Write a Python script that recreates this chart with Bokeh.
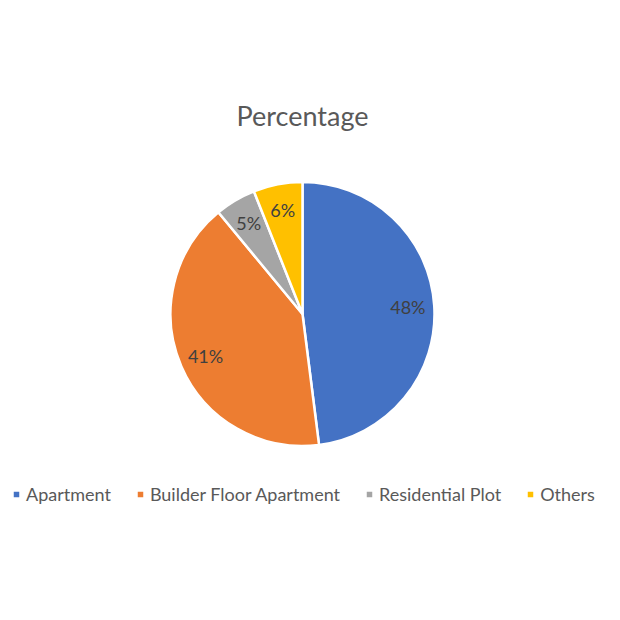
from bokeh.plotting import figure
from bokeh.models import Range1d, ColumnDataSource, Legend, LegendItem
from bokeh.core.properties import value
from bokeh.embed import file_html
from bokeh.resources import INLINE
import numpy as np

categories = ['Apartment', 'Builder Floor Apartment', 'Residential Plot', 'Others']
shares = [48, 41, 5, 6]
slice_colors = ['#4472C4', '#ED7D31', '#A5A5A5', '#FFC000']

W, H = 604, 604
cx, cy, r = 302, 604 - 313.5, 132

frac = np.array(shares, dtype=float) / sum(shares)
cum = np.concatenate([[0], np.cumsum(frac)])
start = np.pi / 2 - 2 * np.pi * cum[:-1]
end = np.pi / 2 - 2 * np.pi * cum[1:]
mid = (start + end) / 2

src = ColumnDataSource(dict(
    cat=categories, start=start, end=end, color=slice_colors,
    lx=cx + 0.8 * r * np.cos(mid), ly=cy + 0.8 * r * np.sin(mid),
    lab=['%d%%' % s for s in shares],
))

p = figure(width=W, height=H, output_backend="svg", toolbar_location=None,
           x_range=Range1d(0, W), y_range=Range1d(0, H), min_border=0)
p.axis.visible = False
p.grid.visible = False
p.outline_line_color = None

# title drawn as text so it sits where Excel puts it
p.text([cx], [604 - 115], text=['Percentage'], text_font=value("Lato"), text_font_size='27px',
       text_color='#595959', text_align='center', text_baseline='middle')

wedges = p.wedge(x=cx, y=cy, radius=r, start_angle='start', end_angle='end', direction='clock',
                 fill_color='color', line_color='white', line_width=2.5, source=src)

p.text(x='lx', y='ly', text='lab', source=src, text_font=value("Lato"), text_font_size='18px',
       text_color='#404040', text_align='center', text_baseline='middle')

items = [LegendItem(label=c, renderers=[wedges], index=i) for i, c in enumerate(categories)]
legend = Legend(items=items, orientation='horizontal', location=(11, 99),
                glyph_width=10, glyph_height=10, label_standoff=5, spacing=24,
                padding=0, margin=0, label_text_font='Lato', label_text_font_size='18px',
                label_text_color='#595959', background_fill_alpha=0, border_line_alpha=0)
p.add_layout(legend, 'center')

open("out.html", "w").write(file_html(p, INLINE))
